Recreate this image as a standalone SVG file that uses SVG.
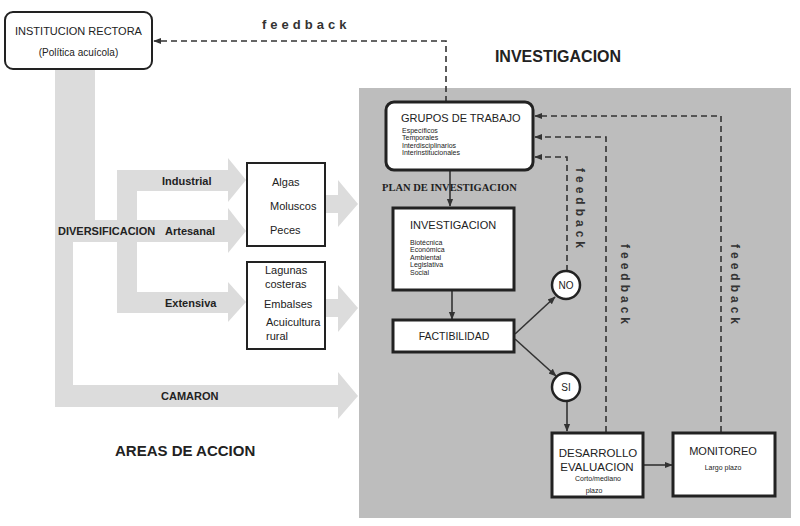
<svg xmlns="http://www.w3.org/2000/svg" width="800" height="526" viewBox="0 0 800 526">
<defs>
<style>
.t{font-family:"Liberation Sans",Arial,sans-serif;fill:#222}
.b{font-weight:bold}
.band{fill:#dcdcdc}
.box{fill:#fff;stroke:#222;stroke-width:2}
.thick{fill:#fff;stroke:#222;stroke-width:3}
.dash{fill:none;stroke:#333;stroke-width:1.6;stroke-dasharray:6,4}
.solid{fill:none;stroke:#333;stroke-width:1.6}
.fb{font-family:"Liberation Sans",Arial,sans-serif;font-weight:bold;fill:#333;letter-spacing:4px}
</style>
<marker id="ah" viewBox="0 0 10 10" refX="9" refY="5" markerWidth="8" markerHeight="8" markerUnits="userSpaceOnUse" orient="auto">
<path d="M0,1 L10,5 L0,9 z" fill="#333"/>
</marker>
</defs>
<rect width="800" height="526" fill="#fff"/>
<g id="panel"><rect x="359" y="88" width="432" height="430" fill="#bdbdbd"/></g>
<g id="bands">
<rect class="band" x="55" y="69" width="40" height="151"/>
<rect class="band" x="55" y="220" width="173" height="22"/>
<polygon class="band" points="228,208 246,231 228,253"/>
<rect class="band" x="55" y="242" width="18" height="165"/>
<rect class="band" x="55" y="385" width="283" height="22"/>
<polygon class="band" points="338,372 358,396 338,419"/>
<rect class="band" x="117" y="170" width="20" height="143"/>
<rect class="band" x="117" y="170" width="111" height="21"/>
<polygon class="band" points="228,158 246,180 228,202"/>
<rect class="band" x="117" y="292" width="111" height="21"/>
<polygon class="band" points="228,282 246,302 228,322"/>
<rect class="band" x="326" y="195" width="13" height="18"/>
<polygon class="band" points="338,180 358,204 338,227"/>
<rect class="band" x="326" y="299" width="13" height="18"/>
<polygon class="band" points="338,285 358,308 338,332"/>
</g>
<g id="band-labels">
<text class="t b" x="58" y="235" font-size="11">DIVERSIFICACION</text>
<text class="t b" x="162" y="185" font-size="11">Industrial</text>
<text class="t b" x="165" y="235" font-size="11">Artesanal</text>
<text class="t b" x="165" y="307" font-size="11">Extensiva</text>
<text class="t b" x="161" y="400" font-size="11">CAMARON</text>
<text class="t b" x="115" y="456" font-size="15">AREAS DE ACCION</text>
<text class="t b" x="558" y="62" font-size="16" text-anchor="middle">INVESTIGACION</text>
</g>
<g id="connectors">
<polyline class="dash" points="446,102 446,41 154,41" marker-end="url(#ah)"/>
<polyline class="dash" points="567,271 567,157 535,157" marker-end="url(#ah)"/>
<polyline class="dash" points="606,432 606,137 535,137" marker-end="url(#ah)"/>
<polyline class="dash" points="721,432 721,116 535,116" marker-end="url(#ah)"/>
<line class="solid" x1="450" y1="170" x2="450" y2="206" marker-end="url(#ah)"/>
<line class="solid" x1="452" y1="291" x2="452" y2="319" marker-end="url(#ah)"/>
<line class="solid" x1="515" y1="334" x2="555" y2="297" marker-end="url(#ah)"/>
<line class="solid" x1="515" y1="339" x2="556" y2="376" marker-end="url(#ah)"/>
<line class="solid" x1="567" y1="402" x2="567" y2="431" marker-end="url(#ah)"/>
<line class="solid" x1="644" y1="465" x2="672" y2="465" marker-end="url(#ah)"/>
</g>
<g id="feedback-labels">
<text class="fb" x="262" y="29" font-size="13">feedback</text>
<text class="fb" font-size="12" transform="translate(576,168) rotate(90)">feedback</text>
<text class="fb" font-size="12" transform="translate(621,244) rotate(90)">feedback</text>
<text class="fb" font-size="12" transform="translate(731,244) rotate(90)">feedback</text>
</g>
<g id="institucion">
<rect class="box" x="5" y="12" width="147" height="57" rx="8"/>
<text class="t" x="78.5" y="35" font-size="11" text-anchor="middle">INSTITUCION RECTORA</text>
<text class="t" x="78.5" y="56" font-size="10" text-anchor="middle">(Política acuícola)</text>
</g>
<g id="especies">
<rect class="box" x="247" y="163" width="78" height="83" stroke-width="1.5"/>
<text class="t" x="272" y="186" font-size="11">Algas</text>
<text class="t" x="270" y="210" font-size="11">Moluscos</text>
<text class="t" x="270" y="234" font-size="11">Peces</text>
</g>
<g id="sistemas">
<rect class="box" x="247" y="262" width="78" height="87" stroke-width="1.5"/>
<text class="t" x="265" y="274" font-size="11">Lagunas</text>
<text class="t" x="265" y="288" font-size="11">costeras</text>
<text class="t" x="264" y="308" font-size="11">Embalses</text>
<text class="t" x="266" y="326" font-size="11">Acuicultura</text>
<text class="t" x="266" y="340" font-size="11">rural</text>
</g>
<g id="grupos">
<rect class="thick" x="386" y="102" width="147" height="68" rx="8"/>
<text class="t" x="401" y="122" font-size="11">GRUPOS DE TRABAJO</text>
<text class="t" x="402" y="133" font-size="7">Específicos</text>
<text class="t" x="402" y="140" font-size="7">Temporales</text>
<text class="t" x="402" y="148" font-size="7">Interdisciplinarios</text>
<text class="t" x="402" y="155" font-size="7">Interinstitucionales</text>
</g>
<g id="plan">
<text x="382" y="191" font-family="'Liberation Serif','Times New Roman',serif" font-weight="bold" font-size="10.5" fill="#222">PLAN DE INVESTIGACION</text>
</g>
<g id="investigacion">
<rect class="thick" x="393" y="208" width="121" height="82"/>
<text class="t" x="410" y="229" font-size="11">INVESTIGACION</text>
<text class="t" x="410" y="245" font-size="7">Biotécnica</text>
<text class="t" x="410" y="252" font-size="7">Económica</text>
<text class="t" x="410" y="260" font-size="7">Ambiental</text>
<text class="t" x="410" y="267" font-size="7">Legislativa</text>
<text class="t" x="410" y="275" font-size="7">Social</text>
</g>
<g id="factibilidad">
<rect class="thick" x="393" y="320" width="121" height="32"/>
<text class="t" x="454" y="340" font-size="10.5" text-anchor="middle">FACTIBILIDAD</text>
</g>
<g id="no">
<circle cx="566" cy="285" r="14" fill="#fff" stroke="#222" stroke-width="2.5"/>
<text class="t" x="566" y="289" font-size="10" text-anchor="middle">NO</text>
</g>
<g id="si">
<circle cx="566" cy="387" r="14" fill="#fff" stroke="#222" stroke-width="2.5"/>
<text class="t" x="566" y="391" font-size="10" text-anchor="middle">SI</text>
</g>
<g id="desarrollo">
<rect class="thick" x="552" y="433" width="91" height="64"/>
<text class="t" x="598" y="457" font-size="11.5" text-anchor="middle">DESARROLLO</text>
<text class="t" x="597" y="471" font-size="11.5" text-anchor="middle">EVALUACION</text>
<text class="t" x="598" y="481" font-size="7" text-anchor="middle">Corto/mediano</text>
<text class="t" x="594" y="493" font-size="7" text-anchor="middle">plazo</text>
</g>
<g id="monitoreo">
<rect class="thick" x="673" y="433" width="102" height="63"/>
<text class="t" x="723" y="455" font-size="11" text-anchor="middle">MONITOREO</text>
<text class="t" x="723" y="470" font-size="7" text-anchor="middle">Largo plazo</text>
</g>
</svg>
